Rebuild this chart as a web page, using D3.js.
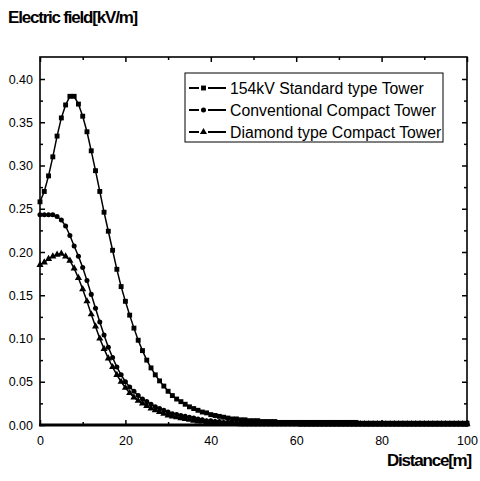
<!DOCTYPE html>
<html>
<head>
<meta charset="utf-8">
<script src="https://cdn.jsdelivr.net/npm/d3@7"></script>
<style>
  body { margin: 0; background: #fff; }
  svg { display: block; font-family: "Liberation Sans", Arial, sans-serif; }
</style>
</head>
<body>
<svg id="chart" width="480" height="481"></svg>
<script>
// distance along the line [m], one marker per metre
const distance = d3.range(0, 101);

// 154kV Standard type Tower
const standardTower = [
  0.258, 0.270, 0.288, 0.310, 0.334, 0.355, 0.370, 0.380, 0.380, 0.371,
  0.357, 0.339, 0.317, 0.294, 0.270, 0.246, 0.224, 0.202, 0.180, 0.160,
  0.143, 0.127, 0.112, 0.098, 0.086, 0.075, 0.066, 0.058, 0.051, 0.045,
  0.039, 0.034, 0.030, 0.027, 0.024, 0.021, 0.019, 0.017, 0.015, 0.014,
  0.012, 0.011, 0.010, 0.009, 0.008, 0.007, 0.007, 0.006, 0.006, 0.005,
  0.005, 0.005, 0.004, 0.004, 0.004, 0.004, 0.003, 0.003, 0.003, 0.003,
  0.003, 0.003, 0.003, 0.003, 0.003, 0.003, 0.003, 0.003, 0.003, 0.003,
  0.003, 0.003, 0.003, 0.003, 0.003, 0.002, 0.002, 0.002, 0.002, 0.002,
  0.002, 0.002, 0.002, 0.002, 0.002, 0.002, 0.002, 0.002, 0.002, 0.002,
  0.002, 0.002, 0.002, 0.002, 0.002, 0.002, 0.002, 0.002, 0.002, 0.002,
  0.002
];

// Conventional Compact Tower
const conventionalTower = [
  0.243, 0.243, 0.243, 0.243, 0.241, 0.237, 0.230, 0.219, 0.207, 0.195,
  0.182, 0.167, 0.151, 0.135, 0.119, 0.104, 0.090, 0.078, 0.067, 0.058,
  0.050, 0.044, 0.039, 0.034, 0.030, 0.027, 0.024, 0.021, 0.019, 0.017,
  0.015, 0.013, 0.012, 0.011, 0.010, 0.009, 0.008, 0.007, 0.006, 0.005,
  0.005, 0.004, 0.004, 0.003, 0.003, 0.003, 0.002, 0.002, 0.002, 0.002,
  0.002, 0.002, 0.002, 0.002, 0.002, 0.002, 0.002, 0.002, 0.002, 0.002,
  0.002, 0.001, 0.001, 0.001, 0.001, 0.001, 0.001, 0.001, 0.001, 0.001,
  0.001, 0.001, 0.001, 0.001, 0.001, 0.001, 0.001, 0.001, 0.001, 0.001,
  0.001, 0.001, 0.001, 0.001, 0.001, 0.001, 0.001, 0.001, 0.001, 0.001,
  0.001, 0.001, 0.001, 0.001, 0.001, 0.001, 0.001, 0.001, 0.001, 0.001,
  0.001
];

// Diamond type Compact Tower
const diamondTower = [
  0.185, 0.188, 0.192, 0.195, 0.197, 0.198, 0.195, 0.190, 0.181, 0.170,
  0.157, 0.143, 0.128, 0.114, 0.100, 0.088, 0.077, 0.067, 0.058, 0.050,
  0.043, 0.037, 0.032, 0.028, 0.025, 0.022, 0.019, 0.017, 0.015, 0.013,
  0.011, 0.010, 0.009, 0.008, 0.007, 0.006, 0.005, 0.004, 0.004, 0.003,
  0.003, 0.003, 0.002, 0.002, 0.002, 0.002, 0.002, 0.001, 0.001, 0.001,
  0.001, 0.001, 0.001, 0.001, 0.001, 0.001, 0.001, 0.001, 0.001, 0.001,
  0.001, 0.001, 0.001, 0.001, 0.001, 0.001, 0.001, 0.001, 0.001, 0.001,
  0.001, 0.001, 0.001, 0.001, 0.001, 0.001, 0.001, 0.001, 0.001, 0.001,
  0.001, 0.001, 0.001, 0.001, 0.001, 0.001, 0.001, 0.001, 0.001, 0.001,
  0.001, 0.001, 0.001, 0.001, 0.001, 0.001, 0.001, 0.001, 0.001, 0.001,
  0.001
];

const seriesNames = ["154kV Standard type Tower", "Conventional Compact Tower", "Diamond type Compact Tower"];
const seriesMarkers = ["square", "circle", "triangle"];
const xTicks = [0, 20, 40, 60, 80, 100];
const xMinorTicks = [10, 30, 50, 70, 90];
const yTicks = [0.00, 0.05, 0.10, 0.15, 0.20, 0.25, 0.30, 0.35, 0.40];
const yMinorTicks = [0.025, 0.075, 0.125, 0.175, 0.225, 0.275, 0.325, 0.375];

const svg = d3.select("#chart");

// plot frame edges in pixels
const plotLeft = 40, plotRight = 467, plotTop = 57, plotBottom = 425;

const x = d3.scaleLinear().domain([0, 100]).range([plotLeft, plotRight]);
const y = d3.scaleLinear().domain([0, 0.40]).range([plotBottom, 79]);

// frame
svg.append("rect")
  .attr("x", plotLeft)
  .attr("y", plotTop)
  .attr("width", plotRight - plotLeft)
  .attr("height", plotBottom - plotTop)
  .attr("fill", "none")
  .attr("stroke", "#000")
  .attr("stroke-width", 1.6);

// thicker bottom line like the scan
svg.append("line")
  .attr("x1", plotLeft - 1).attr("x2", plotRight + 1)
  .attr("y1", plotBottom).attr("y2", plotBottom)
  .attr("stroke", "#000")
  .attr("stroke-width", 3);

function styleAxis(g) {
  g.select(".domain").remove();
  g.selectAll(".tick line").attr("stroke", "#000").attr("stroke-width", 1.5);
  g.selectAll(".tick text")
    .attr("fill", "#000")
    .style("font-size", "12.5px");
}

// left + bottom labelled, top + right mirrored, all ticks inward
svg.append("g").attr("transform", `translate(${plotLeft},0)`)
  .call(d3.axisLeft(y).tickValues(yTicks).tickFormat(d3.format(".2f")).tickSize(-5).tickPadding(7))
  .call(styleAxis);
svg.append("g").attr("transform", `translate(${plotLeft},0)`)
  .call(d3.axisLeft(y).tickValues(yMinorTicks).tickFormat("").tickSize(-3))
  .call(styleAxis);
svg.append("g").attr("transform", `translate(${plotRight},0)`)
  .call(d3.axisRight(y).tickValues(yTicks).tickFormat("").tickSize(-5))
  .call(styleAxis);
svg.append("g").attr("transform", `translate(${plotRight},0)`)
  .call(d3.axisRight(y).tickValues(yMinorTicks).tickFormat("").tickSize(-3))
  .call(styleAxis);

svg.append("g").attr("transform", `translate(0,${plotBottom})`)
  .call(d3.axisBottom(x).tickValues(xTicks).tickFormat(d3.format("d")).tickSize(-5).tickPadding(11))
  .call(styleAxis);
svg.append("g").attr("transform", `translate(0,${plotBottom})`)
  .call(d3.axisBottom(x).tickValues(xMinorTicks).tickFormat("").tickSize(-3))
  .call(styleAxis);
svg.append("g").attr("transform", `translate(0,${plotTop})`)
  .call(d3.axisTop(x).tickValues(xTicks).tickFormat("").tickSize(-5))
  .call(styleAxis);
svg.append("g").attr("transform", `translate(0,${plotTop})`)
  .call(d3.axisTop(x).tickValues(xMinorTicks).tickFormat("").tickSize(-3))
  .call(styleAxis);

// marker shapes
const symbolFor = {
  square: d3.symbol().type(d3.symbolSquare).size(24),
  circle: d3.symbol().type(d3.symbolCircle).size(20),
  triangle: d3.symbol().type(d3.symbolTriangle).size(22)
};

const line = d3.line()
  .x((d, i) => x(distance[i]))
  .y(d => y(d));

const allSeries = [standardTower, conventionalTower, diamondTower];

allSeries.forEach(function (values, s) {
  svg.append("path")
    .attr("d", line(values))
    .attr("fill", "none")
    .attr("stroke", "#000")
    .attr("stroke-width", 1.5);

  svg.append("g")
    .selectAll("path")
    .data(values)
    .enter()
    .append("path")
    .attr("d", symbolFor[seriesMarkers[s]])
    .attr("transform", (d, i) => `translate(${x(distance[i])},${y(d)})`)
    .attr("fill", "#000");
});

// legend box
const legend = svg.append("g").attr("transform", "translate(185,73)");

legend.append("rect")
  .attr("width", 258)
  .attr("height", 69)
  .attr("fill", "#fff")
  .attr("stroke", "#000")
  .attr("stroke-width", 1);

seriesNames.forEach(function (name, i) {
  const rowY = 15 + i * 22;
  legend.append("line")
    .attr("x1", 4).attr("x2", 14)
    .attr("y1", rowY).attr("y2", rowY)
    .attr("stroke", "#000").attr("stroke-width", 2);
  legend.append("line")
    .attr("x1", 23).attr("x2", 41)
    .attr("y1", rowY).attr("y2", rowY)
    .attr("stroke", "#000").attr("stroke-width", 2);
  legend.append("path")
    .attr("d", symbolFor[seriesMarkers[i]])
    .attr("transform", `translate(18.5,${rowY})`)
    .attr("fill", "#000");
  legend.append("text")
    .attr("x", 45)
    .attr("y", rowY + 5.5)
    .style("font-size", "15.8px")
    .attr("fill", "#000")
    .text(name);
});

// axis titles
svg.append("text")
  .attr("x", 8)
  .attr("y", 23)
  .style("font-size", "17px")
  .style("font-weight", "bold")
  .style("letter-spacing", "-1.2px")
  .text("Electric field[kV/m]");

svg.append("text")
  .attr("x", 471)
  .attr("y", 466)
  .attr("text-anchor", "end")
  .style("font-size", "17px")
  .style("font-weight", "bold")
  .style("letter-spacing", "-1.2px")
  .text("Distance[m]");
</script>
</body>
</html>
